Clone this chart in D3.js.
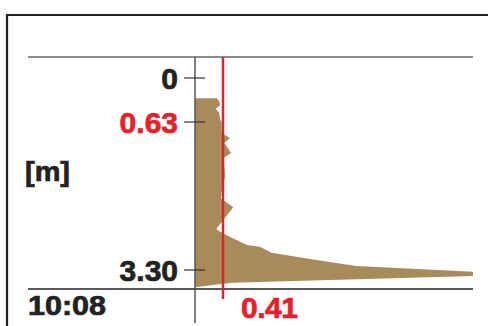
<!DOCTYPE html>
<html><head><meta charset="utf-8">
<script src="https://cdn.jsdelivr.net/npm/d3@7"></script>
<style>html,body{margin:0;padding:0;background:#fff;overflow:hidden}</style>
</head><body>
<svg id="c" width="488" height="326"></svg>
<script>
// ---- data ----
const depthTicks = [0, 0.63, 3.30];
const depthTickLabels = ["0", "0.63", "3.30"];
const highlightTick = "0.63";
const meanValue = 0.41;
const meanLabel = "0.41";
const timeLabel = "10:08";
const unitLabel = "[m]";
// profile outline: depth (m) and value, traced top -> bottom, then back along the base
const profileDepth = [0.29, 0.29, 0.33, 0.39, 0.44, 0.49, 0.59, 0.65, 0.83, 0.92, 1.01, 1.19, 1.28, 1.62, 1.80, 2.01, 2.17, 2.56, 2.64, 2.85, 2.88, 2.99, 3.11, 3.23, 3.33, 3.41, 3.53, 3.61];
const profileValue = [0.00, 0.32, 0.35, 0.37, 0.30, 0.35, 0.37, 0.39, 0.39, 0.51, 0.43, 0.53, 0.42, 0.44, 0.40, 0.38, 0.56, 0.31, 0.41, 0.76, 0.95, 1.12, 1.73, 2.36, 4.07, 4.07, 0.54, 0.00];
const xDomain = [0, 4.07];

// ---- drawing ----
const svg = d3.select("#c");
const y = d3.scaleLinear().domain(depthTicks).range([78, 122, 270]);
const x = d3.scaleLinear().domain(xDomain).range([195, 473]);
const red = "#e8202a";
const font = "'Liberation Sans', Arial, sans-serif";

// frame
svg.append("path").attr("d", "M7,326 V15 H488").attr("fill", "none")
  .attr("stroke", "#222").attr("stroke-width", 2.2);

// profile
const pts = profileDepth.map((d, i) => [x(profileValue[i]), y(d)]);
svg.append("path").attr("d", d3.line()(pts) + "Z").attr("fill", "#a98a5b");

// top / bottom lines
svg.append("line").attr("x1", 28).attr("x2", x(xDomain[1])).attr("y1", 57).attr("y2", 57)
  .attr("stroke", "#666").attr("stroke-width", 1.5);
svg.append("line").attr("x1", 28).attr("x2", x(xDomain[1])).attr("y1", 289).attr("y2", 289)
  .attr("stroke", "#222").attr("stroke-width", 1.5);

// vertical axis
svg.append("line").attr("x1", x(0)).attr("x2", x(0)).attr("y1", 57).attr("y2", 323)
  .attr("stroke", "#555").attr("stroke-width", 1.5);

function label(sel, color) {
  return sel.attr("font-family", font).attr("font-weight", "bold")
    .attr("fill", color).attr("stroke", color).attr("stroke-width", 0.7);
}

// ticks + labels
depthTicks.forEach((d, i) => {
  svg.append("line").attr("x1", x(0) - 11).attr("x2", x(0) + 10).attr("y1", y(d)).attr("y2", y(d))
    .attr("stroke", "#333").attr("stroke-width", 1.2);
  const lab = depthTickLabels[i];
  label(svg.append("text"), lab === highlightTick ? red : "#222")
    .attr("x", x(0) - 17).attr("y", y(d) + 10.5)
    .attr("text-anchor", "end").attr("font-size", 30).text(lab);
});

// mean line
svg.append("line").attr("x1", x(meanValue)).attr("x2", x(meanValue)).attr("y1", 57).attr("y2", 299)
  .attr("stroke", red).attr("stroke-width", 2.5);
label(svg.append("text"), red).attr("x", 241).attr("y", 318)
  .attr("font-size", 30).attr("textLength", 57).text(meanLabel);

// time + unit
label(svg.append("text"), "#222").attr("x", 28).attr("y", 315)
  .attr("font-size", 27).attr("textLength", 78).attr("lengthAdjust", "spacingAndGlyphs").text(timeLabel);
label(svg.append("text"), "#222").attr("x", 25).attr("y", 181)
  .attr("font-size", 28).attr("textLength", 45).attr("lengthAdjust", "spacingAndGlyphs").text(unitLabel);
</script>
</body></html>
